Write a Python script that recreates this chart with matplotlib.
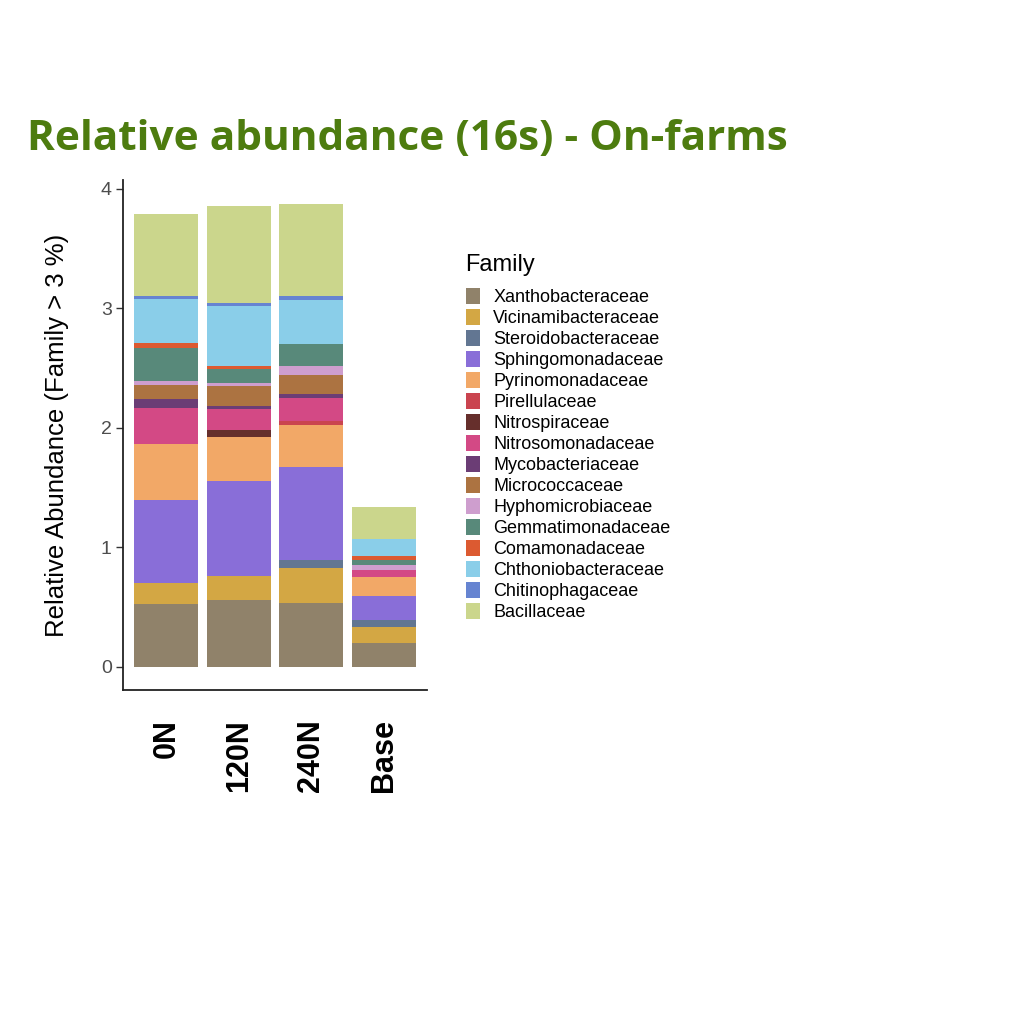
import matplotlib
matplotlib.use("Agg")
import matplotlib.pyplot as plt
import numpy as np
from matplotlib.patches import Patch

FIGURE_XSIZE = 10.24
FIGURE_YSIZE = 10.24
BACKGROUND_RGB = '#FFFFFF'
TITLE_RGB = '#4d7c0f'

plt.rcParams['font.family'] = ['Liberation Sans', 'DejaVu Sans']

samples = ['0N', '120N', '240N', 'Base']

families = ['Xanthobacteraceae', 'Vicinamibacteraceae', 'Steroidobacteraceae',
            'Sphingomonadaceae', 'Pyrinomonadaceae', 'Pirellulaceae',
            'Nitrospiraceae', 'Nitrosomonadaceae', 'Mycobacteriaceae',
            'Micrococcaceae', 'Hyphomicrobiaceae', 'Gemmatimonadaceae',
            'Comamonadaceae', 'Chthoniobacteraceae', 'Chitinophagaceae',
            'Bacillaceae']

family_colors = ['#8a7b62', '#d1a23a', '#5a6f8c', '#8366d6', '#f2a35f',
                 '#c83a45', '#5e2420', '#d13f7f', '#63326e', '#a86b37',
                 '#cc99cc', '#4f8373', '#db5126', '#84cce8', '#5e7dcf',
                 '#c9d486']

# abundance per family, columns follow `samples`
xanthobacteraceae   = [0.526, 0.563, 0.534, 0.200]
vicinamibacteraceae = [0.173, 0.195, 0.292, 0.131]
steroidobacteraceae = [0.000, 0.000, 0.072, 0.058]
sphingomonadaceae   = [0.701, 0.799, 0.777, 0.206]
pyrinomonadaceae    = [0.464, 0.364, 0.348, 0.161]
pirellulaceae       = [0.000, 0.000, 0.030, 0.000]
nitrospiraceae      = [0.000, 0.062, 0.000, 0.000]
nitrosomonadaceae   = [0.304, 0.172, 0.200, 0.058]
mycobacteriaceae    = [0.075, 0.025, 0.028, 0.000]
micrococcaceae      = [0.117, 0.167, 0.164, 0.000]
hyphomicrobiaceae   = [0.028, 0.028, 0.072, 0.042]
gemmatimonadaceae   = [0.278, 0.114, 0.186, 0.042]
comamonadaceae      = [0.042, 0.031, 0.000, 0.031]
chthoniobacteraceae = [0.367, 0.499, 0.367, 0.145]
chitinophagaceae    = [0.025, 0.025, 0.031, 0.000]
bacillaceae         = [0.688, 0.810, 0.771, 0.261]

abundance = [xanthobacteraceae, vicinamibacteraceae, steroidobacteraceae,
             sphingomonadaceae, pyrinomonadaceae, pirellulaceae,
             nitrospiraceae, nitrosomonadaceae, mycobacteriaceae,
             micrococcaceae, hyphomicrobiaceae, gemmatimonadaceae,
             comamonadaceae, chthoniobacteraceae, chitinophagaceae,
             bacillaceae]


def set_axis_properties(axes):
    for side in ['top', 'right']:
        axes.spines[side].set_visible(False)
    for side in ['left', 'bottom']:
        axes.spines[side].set_linewidth(1.3)
        axes.spines[side].set_color('#222222')
    axes.tick_params(axis='y', length=5, width=1.0, color='#333333',
                     labelsize=14, labelcolor='#4d4d4d', pad=3)
    axes.tick_params(axis='x', length=0, pad=21)


def main():
    figure = plt.figure(figsize=(FIGURE_XSIZE, FIGURE_YSIZE), dpi=100,
                        facecolor=BACKGROUND_RGB)
    axes = figure.add_axes([0.1201, 0.326, 0.2969, 0.498])
    set_axis_properties(axes)

    x = np.arange(1, len(samples) + 1)
    bottom = np.zeros(len(samples))
    for name, values, color in zip(families, abundance, family_colors):
        values = np.array(values)
        axes.bar(x, values, width=0.885, bottom=bottom, color=color,
                 alpha=0.95, linewidth=0, label=name)
        bottom += values

    axes.set_xlim(0.4, 4.6)
    axes.set_ylim(-0.194, 4.07)
    axes.set_yticks([0, 1, 2, 3, 4])
    axes.set_xticks(x)
    axes.set_xticklabels(samples, rotation=90, fontsize=22, fontweight='bold',
                         va='top', ha='center')

    axes.set_ylabel('Relative Abundance (Family > 3 %)', fontsize=18.5, labelpad=23)

    figure.text(27 / 1024, 1 - 150 / 1024, 'Relative abundance (16s) - On-farms',
                fontsize=30.5, fontweight='bold', color=TITLE_RGB,
                family=['Open Sans', 'DejaVu Sans'], va='baseline', ha='left')

    handles = [Patch(facecolor=c, alpha=0.95, edgecolor='none') for c in family_colors]
    legend = figure.legend(handles, families, loc='upper left',
                           bbox_to_anchor=(462 / 1024, 1 - 250 / 1024),
                           frameon=False, fontsize=13, title='Family',
                           title_fontsize=17, handlelength=0.78,
                           handleheight=1.0, handletextpad=0.75,
                           labelspacing=0.15, borderaxespad=0,
                           borderpad=0.2)
    legend._legend_box.align = 'left'
    legend._legend_box.sep = 9

    figure.savefig('out.png', dpi=100, facecolor=BACKGROUND_RGB)


if __name__ == '__main__':
    main()
